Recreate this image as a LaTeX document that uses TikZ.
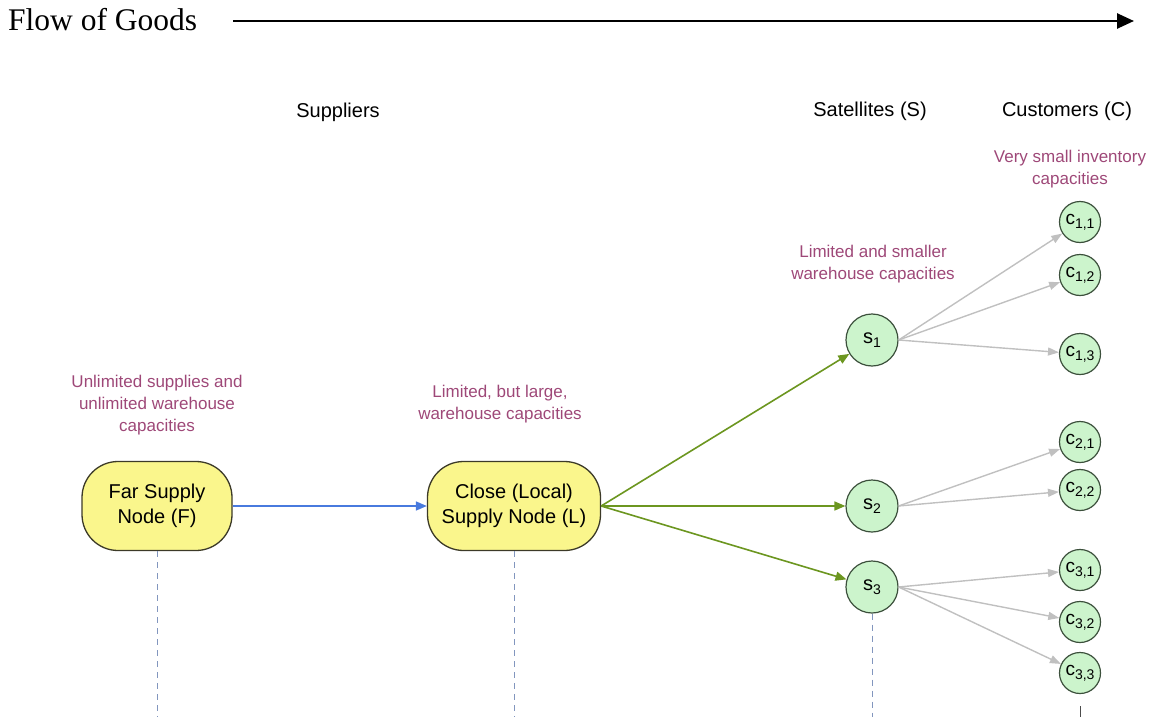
\documentclass[tikz,border=0pt]{standalone}
\usepackage{fontspec}
\setmainfont{Liberation Sans}
\newfontfamily\titleserif{Liberation Serif}
\usetikzlibrary{arrows.meta}

\definecolor{supplyfill}{RGB}{250,246,140}
\definecolor{supplyline}{RGB}{60,58,40}
\definecolor{circfill}{RGB}{204,244,204}
\definecolor{circline}{RGB}{60,80,60}
\definecolor{notecol}{RGB}{158,72,120}
\definecolor{bluearrow}{RGB}{72,122,222}
\definecolor{greenarrow}{RGB}{108,150,32}
\definecolor{grayarrow}{RGB}{192,192,192}
\definecolor{dashcol}{RGB}{130,150,190}

% lowered index for node labels
\newcommand\lowidx[1]{\raisebox{-4pt}{\fontsize{14}{14}\selectfont#1}}

\begin{document}
\begin{tikzpicture}[x=1pt,y=-1pt,
  supply/.style={draw=supplyline, line width=1.3pt, fill=supplyfill,
    rounded corners=36pt, minimum height=89pt, align=center, inner sep=0pt,
    font=\fontsize{20}{25}\selectfont},
  sat/.style={circle, draw=circline, line width=1.2pt, fill=circfill,
    minimum size=52pt, inner sep=0pt, font=\fontsize{20}{22}\selectfont},
  cust/.style={circle, draw=circline, line width=1.2pt, fill=circfill,
    minimum size=41pt, inner sep=0pt, font=\fontsize{19}{20}\selectfont},
  note/.style={text=notecol, align=center, inner sep=0pt,
    font=\fontsize{17}{22}\selectfont},
  heading/.style={inner sep=0pt, font=\fontsize{20}{24}\selectfont},
  blueflow/.style={draw=bluearrow, line width=1.6pt,
    -{Triangle[length=11pt,width=9pt]}},
  greenflow/.style={draw=greenarrow, line width=1.6pt,
    -{Triangle[length=11pt,width=9pt]}},
  grayflow/.style={draw=grayarrow, line width=1.4pt,
    -{Triangle[length=11pt,width=8pt]}},
  lifeline/.style={draw=dashcol, line width=1pt, dash pattern=on 6pt off 5pt}
]
\useasboundingbox (0,0) rectangle (1156,717);

% title with direction arrow
\node[anchor=base west, inner sep=0pt, font=\titleserif\fontsize{31.5}{36}\selectfont]
  (title) at (8,31) {Flow of Goods};
\coordinate (flowstart) at (233,21);
\coordinate (flowend) at (1134,21);
\draw[line width=2.6pt, -{Triangle[length=17pt,width=15pt]}] (flowstart) -- (flowend);

% column headings
\node[heading] (hsup) at (338,112) {Suppliers};
\node[heading] (hsat) at (870,111) {Satellites (S)};
\node[heading] (hcus) at (1067,111) {Customers (C)};

% annotations
\node[note] (nF) at (157,405) {Unlimited supplies and\\unlimited warehouse\\capacities};
\node[note] (nL) at (500,404) {Limited, but large,\\warehouse capacities};
\node[note] (nS) at (873,264) {Limited and smaller\\warehouse capacities};
\node[note] (nC) at (1070,169) {Very small inventory\\capacities};

% supply nodes
\node[supply, minimum width=150pt] (F) at (157,506) {Far Supply\\Node (F)};
\node[supply, minimum width=173pt] (L) at (514,506) {Close (Local)\\Supply Node (L)};

% satellites
\node[sat] (s1) at (872,340) {s\lowidx{1}};
\node[sat] (s2) at (872,506) {s\lowidx{2}};
\node[sat] (s3) at (872,587) {s\lowidx{3}};

% customers
\node[cust] (c11) at (1080,222) {c\lowidx{1,1}};
\node[cust] (c12) at (1080,275) {c\lowidx{1,2}};
\node[cust] (c13) at (1080,354) {c\lowidx{1,3}};
\node[cust] (c21) at (1080,442) {c\lowidx{2,1}};
\node[cust] (c22) at (1080,490) {c\lowidx{2,2}};
\node[cust] (c31) at (1080,570) {c\lowidx{3,1}};
\node[cust] (c32) at (1080,622) {c\lowidx{3,2}};
\node[cust] (c33) at (1080,673) {c\lowidx{3,3}};

% flows
\draw[blueflow] (F) -- (L);
\draw[greenflow] (L.east) -- (s1);
\draw[greenflow] (L.east) -- (s2);
\draw[greenflow] (L.east) -- (s3);
\foreach \c in {c11,c12,c13} \draw[grayflow] (s1.east) -- (\c);
\foreach \c in {c21,c22} \draw[grayflow] (s2.east) -- (\c);
\foreach \c in {c31,c32,c33} \draw[grayflow] (s3.east) -- (\c);

% lifelines running off the bottom edge
\coordinate (bF) at (157,717);
\coordinate (bL) at (514,717);
\coordinate (bS) at (872,717);
\coordinate (bC) at (1080,717);
\draw[lifeline] (F.south) -- (bF);
\draw[lifeline] (L.south) -- (bL);
\draw[lifeline] (s3.south) -- (bS);
\draw[draw=black!70, line width=1pt, dash pattern=on 0pt off 12pt on 14pt] (c33.south) -- (bC);
\end{tikzpicture}
\end{document}
